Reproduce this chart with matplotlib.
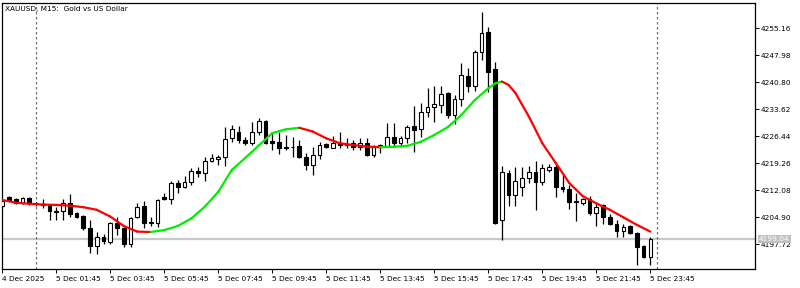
import matplotlib
matplotlib.use("Agg")
import matplotlib.pyplot as plt
import numpy as np

# XAUUSD M15 bars, 4 Dec 22:45 .. 5 Dec 23:45
opens = [4207.9, 4210.3, 4209.8, 4208.7, 4210.0, 4208.8, 4208.4, 4208.2, 4206.6, 4206.6,
         4208.7, 4206.0, 4205.2, 4202.1, 4197.3, 4199.7, 4198.3, 4203.4, 4202.1, 4197.8,
         4205.0, 4207.9, 4203.4, 4203.4, 4210.3, 4209.8, 4214.0, 4213.0, 4214.3, 4217.2,
         4216.7, 4219.9, 4220.4, 4220.9, 4226.0, 4227.6, 4225.5, 4224.7, 4227.6, 4230.5,
         4225.2, 4224.9, 4223.6, 4223.5, 4223.9, 4220.9, 4218.8, 4221.5, 4224.4, 4223.3,
         4224.7, 4224.4, 4224.7, 4223.6, 4224.7, 4221.5, 4223.6, 4223.9, 4226.3, 4224.7,
         4226.0, 4229.2, 4228.4, 4232.9, 4234.2, 4234.8, 4238.0, 4232.1, 4236.4, 4242.5,
         4239.8, 4248.9, 4254.2, 4244.3, 4204.2, 4216.7, 4210.8, 4213.0, 4215.4, 4217.0,
         4214.3, 4217.5, 4218.3, 4213.0, 4212.4, 4209.0, 4208.7, 4209.8, 4206.0, 4208.2,
         4205.0, 4203.1, 4201.3, 4202.6, 4200.7, 4197.3, 4194.4]
highs = [4209.8, 4210.6, 4210.0, 4210.3, 4210.3, 4209.0, 4209.8, 4208.4, 4207.6, 4209.8,
         4211.1, 4206.3, 4205.5, 4204.2, 4201.0, 4200.5, 4203.7, 4205.0, 4202.3, 4205.0,
         4208.7, 4209.2, 4205.0, 4209.8, 4211.4, 4214.6, 4214.8, 4215.9, 4218.0, 4218.3,
         4220.9, 4221.7, 4221.5, 4228.9, 4229.5, 4229.2, 4226.3, 4230.3, 4231.3, 4230.8,
         4227.6, 4227.6, 4226.8, 4226.3, 4225.5, 4222.0, 4223.6, 4224.9, 4224.7, 4226.5,
         4227.6, 4226.0, 4225.5, 4226.0, 4226.0, 4224.1, 4224.4, 4230.0, 4230.0, 4226.5,
         4229.5, 4234.5, 4235.3, 4239.3, 4239.8, 4239.8, 4238.2, 4237.4, 4245.9, 4244.6,
         4249.4, 4259.5, 4255.5, 4246.2, 4218.6, 4217.5, 4218.3, 4218.3, 4218.6, 4219.9,
         4219.1, 4219.1, 4218.8, 4216.2, 4213.5, 4211.4, 4210.0, 4210.6, 4208.7, 4208.4,
         4205.8, 4204.2, 4203.1, 4202.9, 4200.9, 4197.5, 4199.7]
lows = [4207.4, 4209.2, 4208.4, 4208.4, 4208.2, 4207.9, 4207.4, 4204.2, 4204.2, 4204.2,
        4205.0, 4204.7, 4201.5, 4195.4, 4195.1, 4197.8, 4197.8, 4200.2, 4197.0, 4197.0,
        4204.7, 4202.1, 4202.6, 4202.3, 4209.5, 4208.4, 4211.4, 4212.7, 4213.5, 4215.6,
        4214.6, 4219.6, 4218.8, 4218.5, 4224.9, 4224.7, 4224.1, 4224.1, 4226.8, 4224.4,
        4222.8, 4221.7, 4222.8, 4220.9, 4220.7, 4217.5, 4216.2, 4220.4, 4223.3, 4223.2,
        4223.3, 4223.3, 4222.8, 4222.8, 4221.2, 4220.9, 4222.0, 4223.6, 4223.6, 4223.6,
        4224.7, 4222.3, 4226.3, 4231.6, 4230.3, 4232.6, 4231.3, 4229.7, 4234.5, 4238.2,
        4238.5, 4246.7, 4238.2, 4203.2, 4198.9, 4207.9, 4207.9, 4210.6, 4214.0, 4206.9,
        4213.5, 4217.0, 4210.3, 4211.6, 4207.1, 4203.9, 4208.2, 4205.5, 4202.6, 4203.1,
        4202.9, 4199.7, 4199.7, 4200.5, 4192.2, 4194.1, 4192.2]
closes = [4209.2, 4209.5, 4208.7, 4210.0, 4209.0, 4208.6, 4208.2, 4206.6, 4206.4, 4208.7,
          4205.8, 4205.0, 4202.1, 4197.3, 4199.7, 4198.6, 4203.4, 4202.1, 4197.8, 4204.7,
          4207.6, 4203.4, 4203.7, 4209.5, 4209.8, 4214.0, 4213.0, 4214.3, 4217.2, 4216.7,
          4219.9, 4220.7, 4220.9, 4225.7, 4228.4, 4225.5, 4224.7, 4227.6, 4230.5, 4224.7,
          4224.7, 4223.3, 4223.4, 4223.7, 4220.9, 4218.8, 4221.5, 4224.1, 4223.6, 4224.7,
          4224.1, 4224.2, 4223.6, 4224.7, 4221.5, 4223.6, 4224.1, 4226.3, 4224.7, 4226.0,
          4228.9, 4228.1, 4232.9, 4234.2, 4235.0, 4237.7, 4232.1, 4236.4, 4242.8, 4239.8,
          4248.9, 4253.9, 4243.5, 4203.4, 4217.0, 4210.8, 4214.6, 4215.4, 4217.0, 4214.3,
          4218.0, 4218.3, 4213.0, 4212.4, 4209.0, 4209.1, 4209.8, 4206.0, 4207.6, 4205.0,
          4203.1, 4201.3, 4202.3, 4200.7, 4197.0, 4194.4, 4199.04]

# smoothed moving average, sampled along the drawn line
ma_bar = [0, 2, 4, 6, 8, 10, 12, 14, 16, 18, 20, 22, 24, 26, 28, 30, 32, 34, 36, 38,
          40, 42, 44, 46, 48, 50, 52, 54, 56, 58, 60, 62, 64, 66, 68, 70, 72, 73, 74, 75,
          76, 78, 80, 82, 84, 86, 88, 90, 92, 94, 96]
ma_val = [4209.5, 4208.8, 4208.5, 4208.3, 4208.2, 4208.0, 4207.6, 4206.9, 4205.1, 4202.6,
          4201.1, 4201.0, 4201.5, 4202.6, 4204.6, 4207.7, 4211.7, 4217.5, 4220.7, 4224.0,
          4227.3, 4228.3, 4228.7, 4227.7, 4225.9, 4224.6, 4224.1, 4223.7, 4223.55, 4223.66,
          4223.9, 4225.0, 4226.8, 4228.9, 4232.1, 4236.1, 4239.2, 4240.5, 4241.0, 4240.1,
          4238.0, 4231.7, 4224.6, 4219.3, 4214.0, 4210.5, 4208.6, 4206.9, 4204.9, 4202.9,
          4201.1]

price_ticks = [4255.16, 4247.98, 4240.80, 4233.62, 4226.44, 4219.26, 4212.08, 4204.90, 4197.72]
time_labels = ["4 Dec 2025", "5 Dec 01:45", "5 Dec 03:45", "5 Dec 05:45", "5 Dec 07:45",
               "5 Dec 09:45", "5 Dec 11:45", "5 Dec 13:45", "5 Dec 15:45", "5 Dec 17:45",
               "5 Dec 19:45", "5 Dec 21:45", "5 Dec 23:45"]
time_label_bar = [0, 8, 16, 24, 32, 40, 48, 56, 64, 72, 80, 88, 96]
day_sep_bar = [5, 97]
bid = 4199.04

fig = plt.figure(figsize=(8, 2.88), dpi=100)
ax = fig.add_axes([2 / 800, 19 / 288, 753 / 800, 266.5 / 288])
ax.set_xlim(-0.04, 111.5)
ax.set_ylim(4191.16, 4262.02)

# bid line
ax.axhline(bid, color="#c8c8c8", lw=1.6, zorder=1)

for b in day_sep_bar:
    ax.axvline(b, color="#707070", lw=0.9, ls=(0, (2, 2)), zorder=1)

x = np.arange(len(opens))
o = np.array(opens); c = np.array(closes)
ax.vlines(x, lows, highs, color="black", lw=0.9, zorder=2)
bull = c >= o
body = np.maximum(np.abs(c - o), 0.12)
bottom = np.minimum(o, c)
ax.bar(x[bull], body[bull], bottom=bottom[bull], width=0.55, color="white",
       edgecolor="black", lw=0.8, zorder=3)
ax.bar(x[~bull], body[~bull], bottom=bottom[~bull], width=0.55, color="black",
       edgecolor="black", lw=0.8, zorder=3)

# colored MA: green rising, red falling
for k in range(len(ma_bar) - 1):
    col = "#00ee00" if ma_val[k + 1] > ma_val[k] else "#ff0000"
    ax.plot(ma_bar[k:k + 2], ma_val[k:k + 2], color=col, lw=1.6,
            solid_capstyle="round", zorder=4)

for s in ax.spines.values():
    s.set_color("black")
    s.set_linewidth(0.9)

ax.yaxis.tick_right()
ax.set_yticks(price_ticks)
ax.set_yticklabels([f"{p:.2f}" for p in price_ticks])
ax.tick_params(axis="y", direction="out", length=3, width=0.7, pad=1, labelsize=5.3)
ax.set_xticks(time_label_bar)
ax.set_xticklabels(time_labels, ha="left")
ax.tick_params(axis="x", direction="out", length=3, width=0.7, pad=2, labelsize=5.3)
for lab in ax.get_xticklabels():
    lab.set_x(lab.get_position()[0])

ax.text(757 / 753 * 1.0, bid, "4199.04", transform=ax.get_yaxis_transform(),
        ha="left", va="center", fontsize=5.3, color="white",
        bbox=dict(boxstyle="square,pad=0.15", fc="#c0c0c0", ec="none"), zorder=6,
        clip_on=False)

ax.text(0.004, 0.985, "XAUUSD, M15:  Gold vs US Dollar", transform=ax.transAxes,
        ha="left", va="top", fontsize=5.3)

fig.savefig("out.png", dpi=100)
